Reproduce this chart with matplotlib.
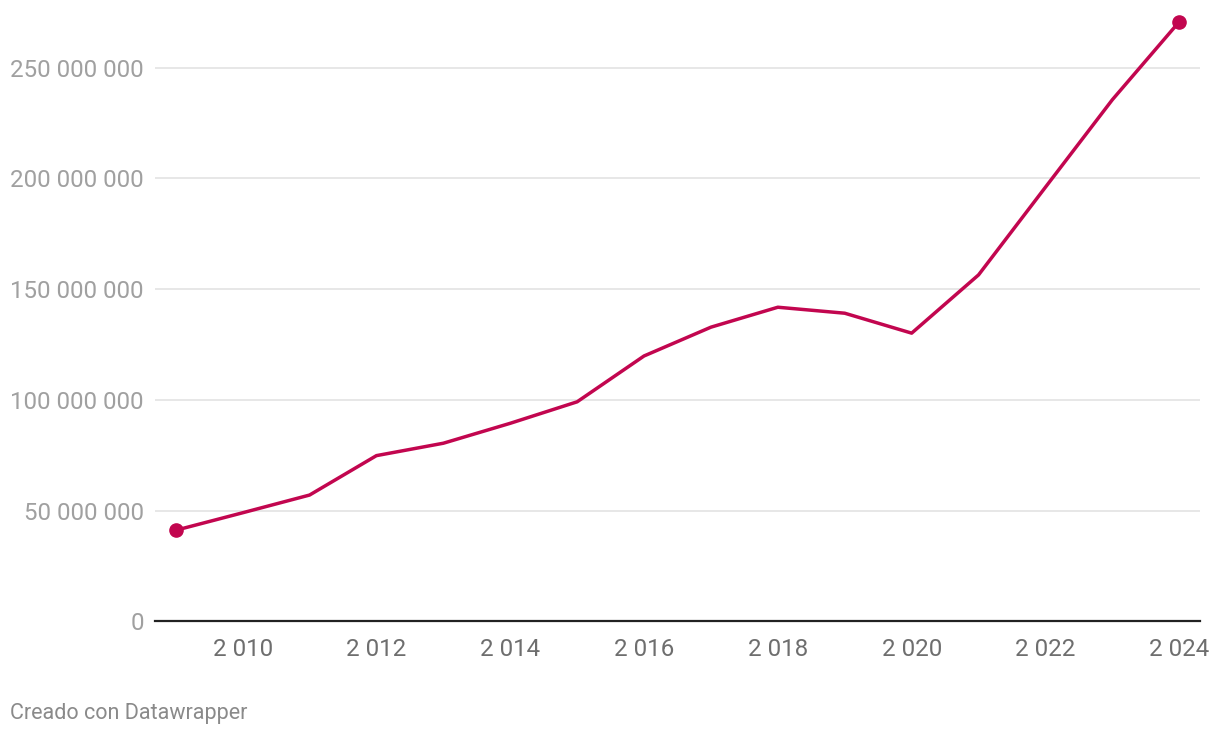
import matplotlib.pyplot as plt
from matplotlib import ticker

plt.rcParams['font.family'] = ['Roboto', 'DejaVu Sans']

# Data
years = [2009, 2010, 2011, 2012, 2013, 2014, 2015, 2016,
         2017, 2018, 2019, 2020, 2021, 2022, 2023, 2024]
values = [41.1e6, 49.0e6, 57.0e6, 74.8e6, 80.4e6, 89.4e6, 99.1e6, 119.8e6,
          132.8e6, 141.8e6, 139.1e6, 130.1e6, 156.4e6, 196.0e6, 235.5e6, 270.7e6]
y_ticks = [0, 50e6, 100e6, 150e6, 200e6, 250e6]
x_ticks = [2010, 2012, 2014, 2016, 2018, 2020, 2022, 2024]

color = '#c2064f'


def sep(v):
    # thousands separated by a space, like the original
    return f'{int(round(v)):,}'.replace(',', ' ')


fig = plt.figure(figsize=(12.2, 7.38), dpi=100)
ax = fig.add_axes([155 / 1220, 116.7 / 738, 1045 / 1220, 611.3 / 738])

ax.plot(years, values, color=color, linewidth=2.5, solid_joinstyle='round', zorder=3)
ax.plot([years[0], years[-1]], [values[0], values[-1]], 'o', color=color,
        markersize=9.5, clip_on=False, zorder=4)

ax.set_xlim(2008.69, 2024.31)
ax.set_ylim(0, 276e6)

ax.set_yticks(y_ticks)
ax.set_xticks(x_ticks)
ax.yaxis.set_major_formatter(ticker.FuncFormatter(lambda v, p: sep(v)))
ax.xaxis.set_major_formatter(ticker.FuncFormatter(lambda v, p: sep(v)))

ax.grid(axis='y', color='#e3e3e3', linewidth=1.2)
ax.set_axisbelow(True)
for s in ['top', 'right', 'left']:
    ax.spines[s].set_visible(False)
ax.spines['bottom'].set_color('#222222')
ax.spines['bottom'].set_linewidth(1.6)

ax.tick_params(axis='y', length=0, pad=8, labelsize=17.4, labelcolor='#a0a0a0')
ax.tick_params(axis='x', length=0, pad=12, labelsize=17.4, labelcolor='#6e6e6e')

fig.text(10 / 1220, 1 - 714 / 738, 'Creado con Datawrapper', fontsize=15.5,
         color='#8a8a8a', va='center', ha='left')

fig.savefig('out.png', dpi=100, facecolor='white')
